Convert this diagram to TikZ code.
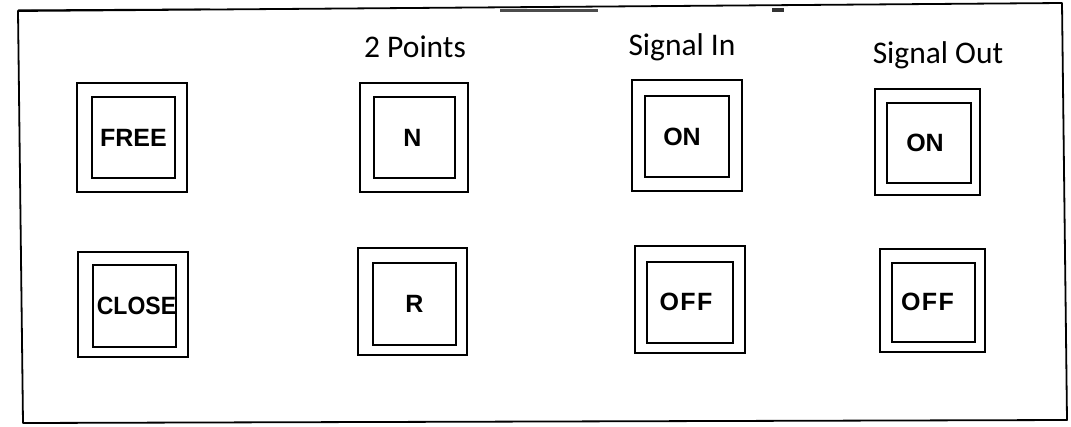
\documentclass[tikz,border=0pt]{standalone}
\usepackage{fontspec}
\newfontfamily\labelfont{Carlito}
\newfontfamily\keyfont{Liberation Sans}
\begin{document}
\begin{tikzpicture}[x=1pt,y=-1pt,
  frameline/.style={line width=1.8pt, line join=round},
  outerbox/.style={draw, line width=2.2pt, rectangle, inner sep=0pt},
  innerbox/.style={draw, line width=2pt, rectangle, inner sep=0pt, font=\keyfont\bfseries\fontsize{25}{25}\selectfont},
  toplabel/.style={anchor=base, inner sep=0pt, font=\labelfont\fontsize{31.5}{32}\selectfont}]
\useasboundingbox (0,0) rectangle (1071,426);
% frame
\coordinate (f1) at (18,11);
\coordinate (f2) at (1062,3);
\coordinate (f3) at (1067,420);
\coordinate (f4) at (23,423);
\draw[frameline] (f1) -- (f2) -- (f3) -- (f4) -- cycle;
% scan artifacts on the top edge
\fill[black!70] (500,9) rectangle (598,12);
\fill[black!80] (772,8) rectangle (784,12);
\draw[line width=1pt] (18,10) -- (210,9);
% labels
\node[toplabel] (lp) at (415,57) {2 Points};
\node[toplabel] (li) at (682,55) {Signal In};
\node[toplabel] (lo) at (938,63) {Signal Out};
% row 1
\node[outerbox, minimum width=110pt, minimum height=109pt] (o1) at (132,137.5) {};
\node[innerbox, minimum width=83pt, minimum height=81pt] (i1) at (133.5,137.5) {FREE};
\node[outerbox, minimum width=108pt, minimum height=109pt] (o2) at (414,137.5) {};
\node[innerbox, minimum width=81pt, minimum height=81pt] (i2) at (414.5,137.5) {N\kern4pt};
\node[outerbox, minimum width=110pt, minimum height=111pt] (o3) at (687,135.5) {};
\node[innerbox, minimum width=84pt, minimum height=81pt] (i3) at (687,136.5) {ON\kern10pt};
\node[outerbox, minimum width=105pt, minimum height=106pt] (o4) at (927.5,142) {};
\node[innerbox, minimum width=84pt, minimum height=80pt] (i4) at (929,143) {ON\kern8pt};
% row 2
\node[outerbox, minimum width=110pt, minimum height=105pt] (o5) at (133,304.5) {};
\node[innerbox, minimum width=83pt, minimum height=82pt] (i5) at (134.5,306) {\kern4pt\scalebox{0.92}[1]{CLOSE}};
\node[outerbox, minimum width=109pt, minimum height=107pt] (o6) at (412.5,301.5) {};
\node[innerbox, minimum width=83pt, minimum height=82pt] (i6) at (414.5,304) {R};
\node[outerbox, minimum width=110pt, minimum height=107pt] (o7) at (690,299.5) {};
\node[innerbox, minimum width=86pt, minimum height=81pt] (i7) at (690,302.5) {\raisebox{2pt}{O\kern1.5pt F\kern1.5pt F}\kern8pt};
\node[outerbox, minimum width=105pt, minimum height=103pt] (o8) at (932.5,300.5) {};
\node[innerbox, minimum width=83pt, minimum height=79pt] (i8) at (933.5,302.5) {\raisebox{2pt}{O\kern1.5pt F\kern1.5pt F}\kern12pt};
\end{tikzpicture}
\end{document}
